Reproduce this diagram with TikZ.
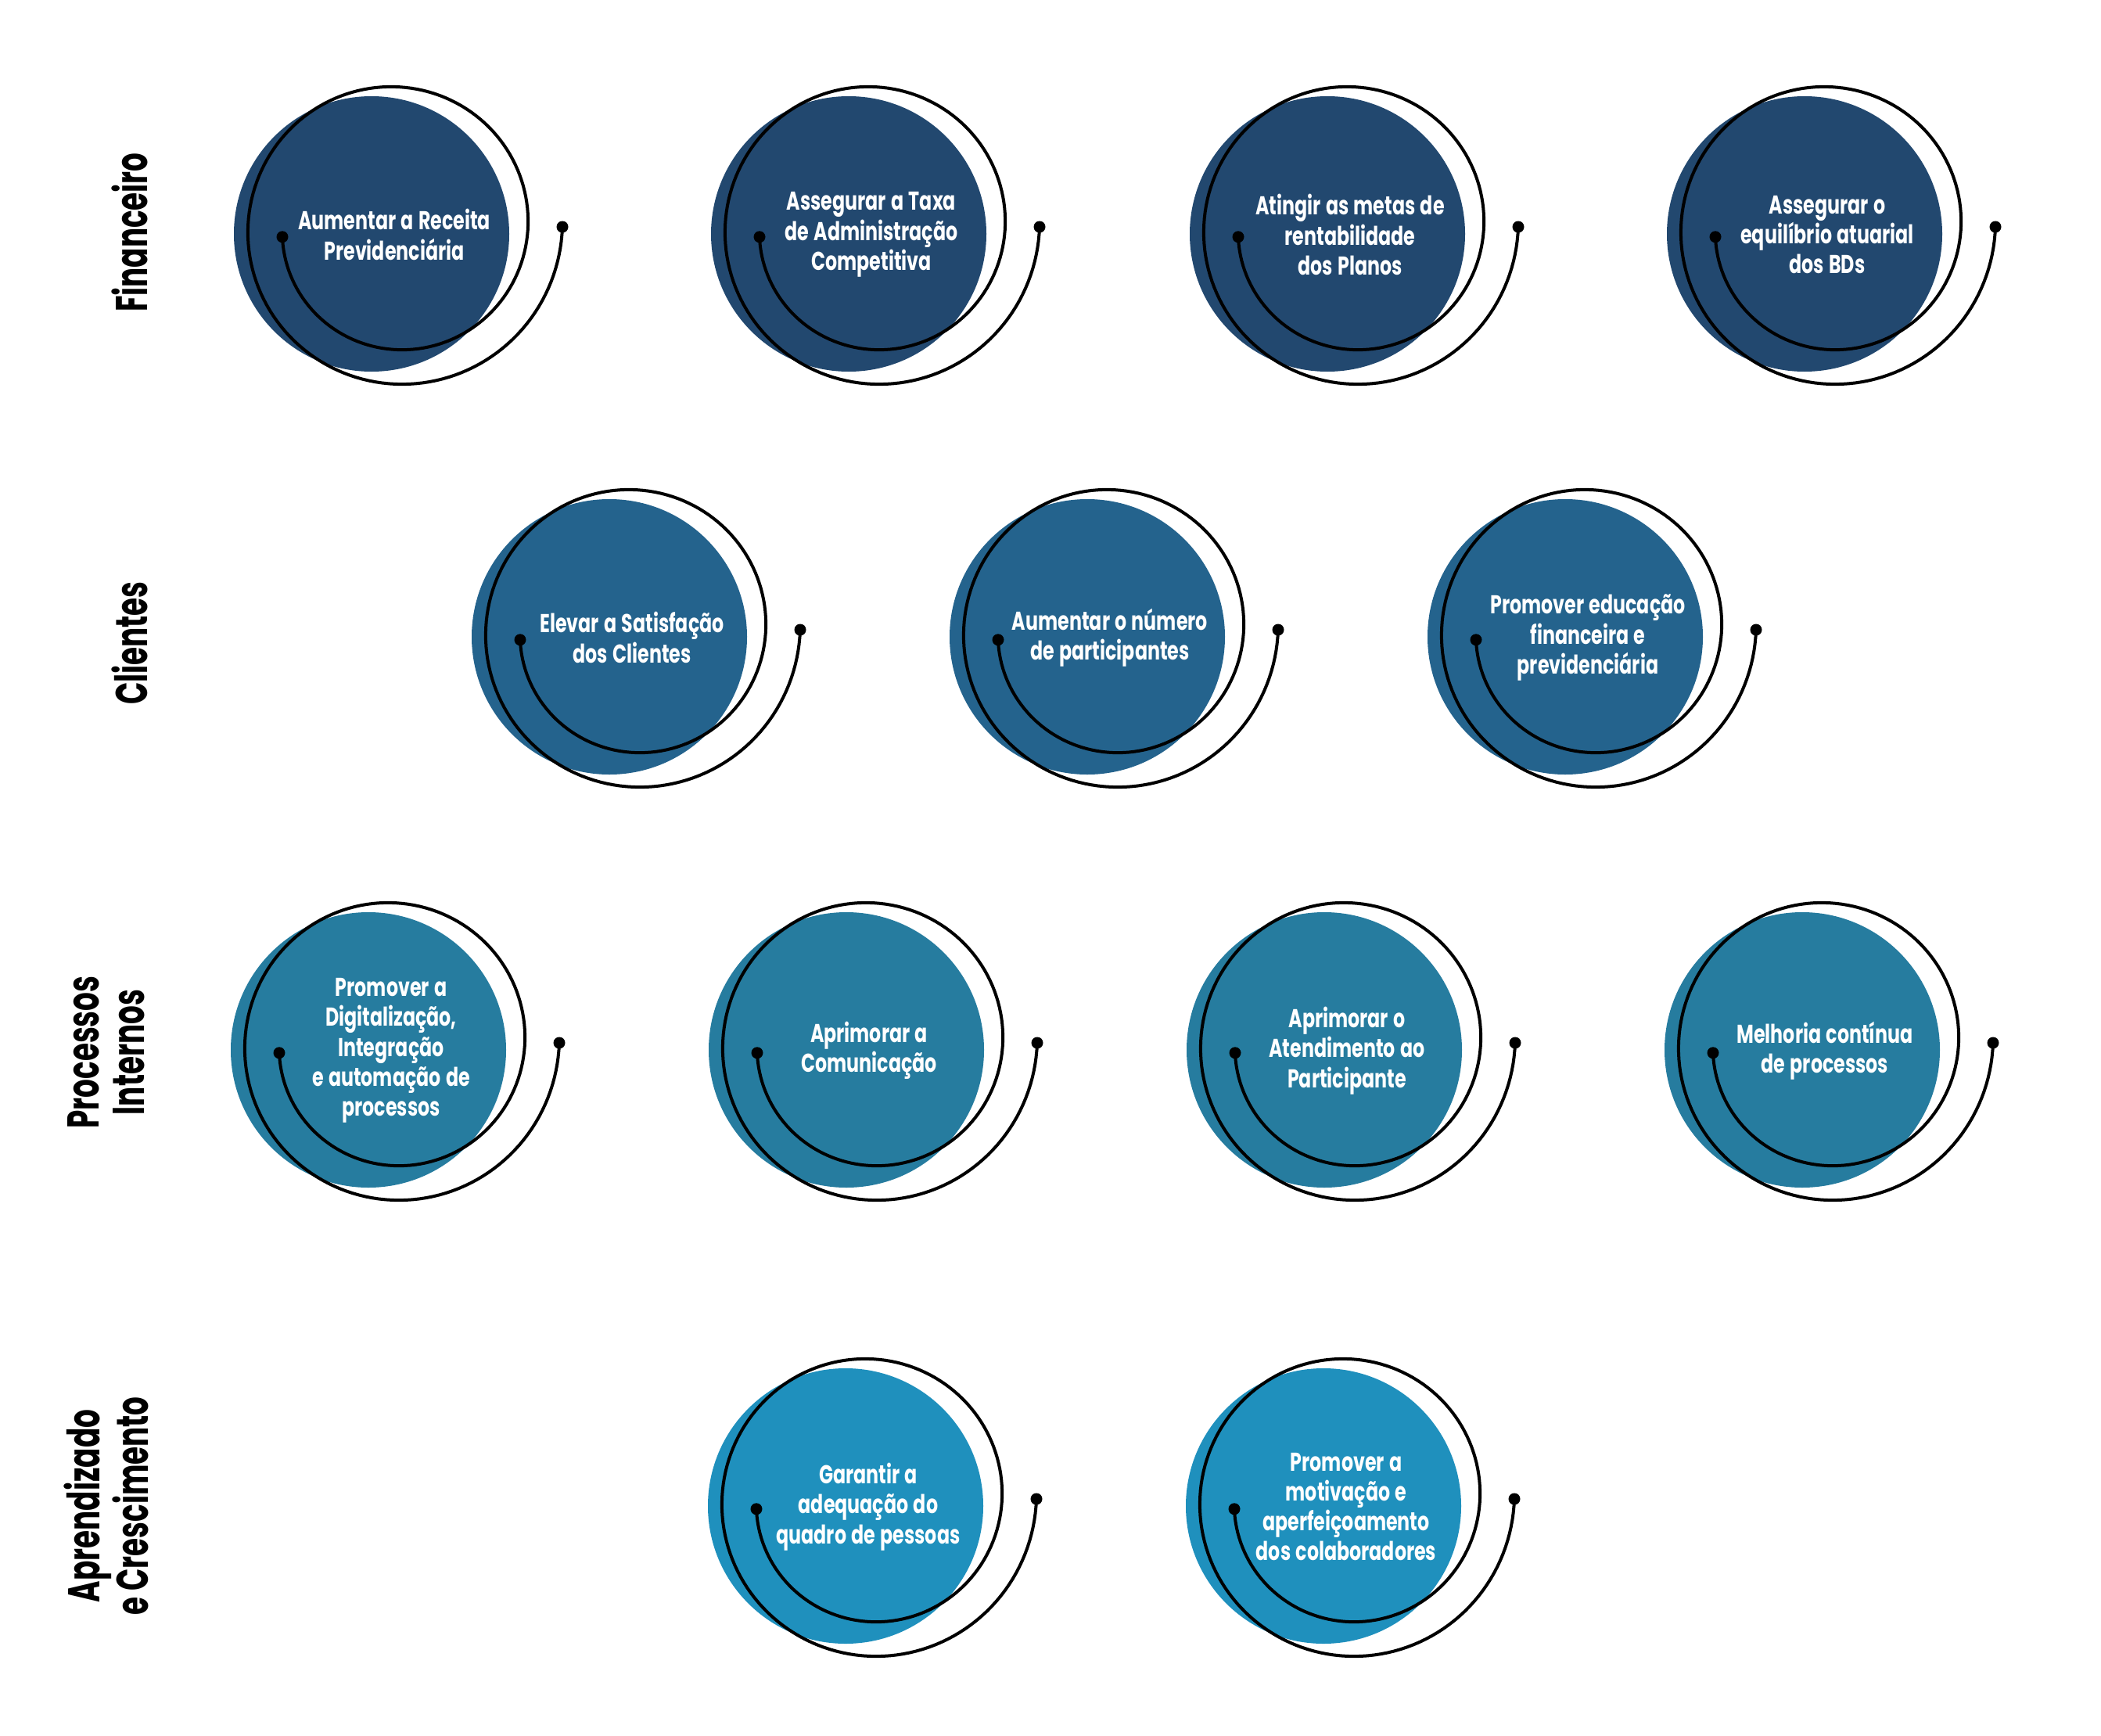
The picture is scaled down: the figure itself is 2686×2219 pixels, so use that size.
\documentclass[tikz,border=0pt]{standalone}
\usepackage{fontspec}
\newfontfamily\circfont[FakeStretch=0.72,WordSpace=1.25]{Poppins}
\newfontfamily\labfont[FakeStretch=0.655]{Poppins}
\definecolor{rowA}{HTML}{22486F}
\definecolor{rowB}{HTML}{24638D}
\definecolor{rowC}{HTML}{267C9F}
\definecolor{rowD}{HTML}{1F90BD}
\tikzset{
  spiralline/.style={draw=black, line width=4pt},
  dotfill/.style={fill=black},
  goaltext/.style={text=white, align=center, font={\circfont\bfseries\fontsize{33}{38.3}\selectfont}},
  rowlabel/.style={text=black, rotate=90, align=center, font={\labfont\bfseries\fontsize{57}{58}\selectfont}}
}
% #1 name, #2 end-dot x, #3 end-dot y (pixels, downwards), #4 colour, #5 text
\newcommand\goalitem[5]{%
  \fill[#4] (#2-244,-#3-9) circle[radius=176];
  \coordinate (#1s) at (#2-358,-#3-12.8);
  \coordinate (#1e) at (#2,-#3);
  \draw[spiralline] plot[domain=185:720, samples=220, variable=\t]
    ({#2-212+(146+11*(\t-180)/90)*cos(\t)},{-#3+(146+11*(\t-180)/90)*sin(\t)});
  \fill[dotfill] (#1s) circle[radius=7.5];
  \fill[dotfill] (#1e) circle[radius=7.5];
  \node[goaltext] (#1) at (#2-215,-#3-10) {#5};
}
\begin{document}
\begin{tikzpicture}[x=1pt,y=1pt]
\useasboundingbox (0,0) rectangle (2686,-2219);
\fill[white] (0,0) rectangle (2686,-2219);

% row labels
\node[rowlabel] (lfin) at (166,-297) {Financeiro};
\node[rowlabel] (lcli) at (166,-822) {Clientes};
\node[rowlabel] (lpro) at (136,-1345) {Processos\\Internos};
\node[rowlabel] (lapr) at (136,-1925) {Aprendizado\\e Crescimento};

% Financeiro
\goalitem{f1}{719}{290}{rowA}{Aumentar a Receita\\Previdenciária}
\goalitem{f2}{1329}{290}{rowA}{Assegurar a Taxa\\de Administração\\Competitiva}
\goalitem{f3}{1941}{290}{rowA}{Atingir as metas de\\rentabilidade\\dos Planos}
\goalitem{f4}{2551}{290}{rowA}{Assegurar o\\equilíbrio atuarial\\dos BDs}

% Clientes
\goalitem{c1}{1023}{805}{rowB}{Elevar a Satisfação\\dos Clientes}
\goalitem{c2}{1634}{805}{rowB}{Aumentar o número\\de participantes}
\goalitem{c3}{2245}{805}{rowB}{Promover educação\\financeira e\\previdenciária}

% Processos Internos
\goalitem{p1}{715}{1333}{rowC}{Promover a\\Digitalização,\\Integração\\e automação de\\processos}
\goalitem{p2}{1326}{1333}{rowC}{Aprimorar a\\Comunicação}
\goalitem{p3}{1937}{1333}{rowC}{Aprimorar o\\Atendimento ao\\Participante}
\goalitem{p4}{2548}{1333}{rowC}{Melhoria contínua\\de processos}

% Aprendizado e Crescimento
\goalitem{a1}{1325}{1916}{rowD}{Garantir a\\adequação do\\quadro de pessoas}
\goalitem{a2}{1936}{1916}{rowD}{Promover a\\motivação e\\aperfeiçoamento\\dos colaboradores}
\end{tikzpicture}
\end{document}
